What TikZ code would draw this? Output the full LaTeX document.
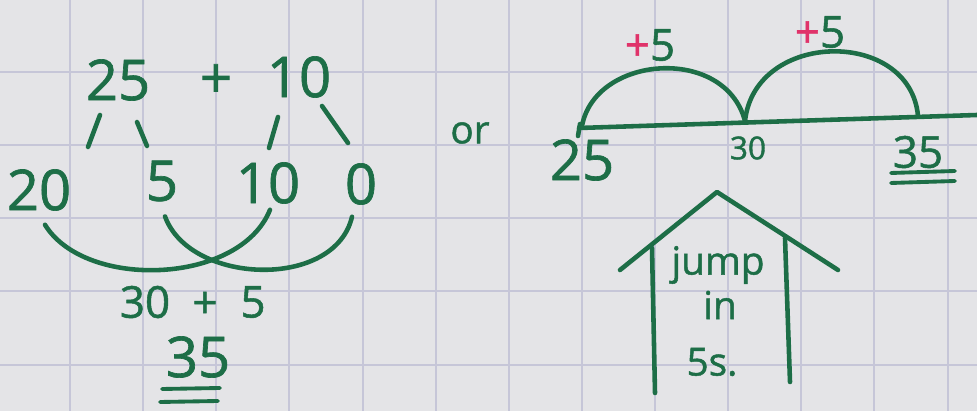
\documentclass[tikz,border=0pt]{standalone}
\usepackage{fontspec}
\setmainfont{Open Sans}
\newfontfamily\handfont{Open Sans}[FakeBold=1.2]
\usetikzlibrary{positioning}
\definecolor{inkcol}{HTML}{1D6E47}
\definecolor{pluscol}{HTML}{E0336A}
\definecolor{papercol}{HTML}{E4E4E7}
\definecolor{gridcol}{HTML}{C6C6D8}

\begin{document}
\begin{tikzpicture}[
  x=0.02cm, y=-0.02cm,
  ink/.style={draw=inkcol, line width=2.6pt, line cap=round, line join=round},
  gridline/.style={draw=gridcol, line width=0.6pt},
  bignum/.style={text=inkcol, font=\handfont\fontsize{32}{34}\selectfont, inner sep=1pt},
  midnum/.style={text=inkcol, font=\handfont\fontsize{25}{28}\selectfont, inner sep=1pt},
  smallnum/.style={text=inkcol, font=\handfont\fontsize{18}{20}\selectfont, inner sep=1pt},
  word/.style={text=inkcol, font=\handfont\fontsize{22}{24}\selectfont, inner sep=1pt},
]

% paper and grid
\fill[papercol] (0,0) rectangle (977,411);
\useasboundingbox (0,0) rectangle (977,411);
\foreach \gx in {70,143,216,289,363,436,509,582,655,728,801,874,948}{
  \draw[gridline] (\gx,0) -- (\gx,411);
}
\foreach \gy in {72,145,218,291,365}{
  \draw[gridline] (0,\gy) -- (977,\gy);
}

% split strategy
\node[bignum] (top25) at (118,80) {25};
\node[bignum] (topplus) at (216,81) {+};
\node[bignum] (top10) at (299,77) {10};

\draw[ink] (88,147) -- (100,115);
\draw[ink] (137,122) -- (147,146);
\draw[ink] (269,148) -- (278,117);
\draw[ink] (322,106) -- (348,143);

\node[bignum] (tens20) at (39,190) {20};
\node[bignum] (ones5)  at (162,181) {5};
\node[bignum] (tens10) at (268,183) {10};
\node[bignum] (ones0)  at (361,184) {0};

\draw[ink] ([shift={(6,12)}]tens20.south) .. controls (85,290) and (240,285) .. ([shift={(2,4)}]tens10.south);
\draw[ink] ([shift={(3,13)}]ones5.south) .. controls (190,285) and (335,290) .. ([shift={(-9,10)}]ones0.south);

\node[midnum] (sum30) at (145,302) {30};
\node[midnum] (sumplus) at (205,305) {+};
\node[midnum] (sum5) at (253,302) {5};
\node[bignum] (res35) at (198,357) {35};
\draw[ink, line width=2.2pt] (162,389) -- (220,388);
\draw[ink, line width=2.2pt] (160,402) -- (218,401);

\node[word] (ortext) at (470,133) {or};

% number line
\coordinate (p25) at (582,126);
\coordinate (p30) at (745,121);
\coordinate (p35) at (918,116);
\draw[ink] (579,128) -- (977,115);
\draw[ink] (580,124) -- (578,136);
\draw[ink] (p25) .. controls (595,55) and (725,45) .. (p30);
\draw[ink] (p30) .. controls (755,30) and (910,28) .. (p35);

\node[midnum] (jump1) at (650,45) {\textcolor{pluscol}{+}5};
\node[midnum] (jump2) at (820,32) {\textcolor{pluscol}{+}5};

\node[bignum] (lab25) at (582,160) {25};
\node[smallnum] (lab30) at (748,148) {30};
\node[midnum] (lab35) at (918,152) {35};
\draw[ink, line width=2.2pt] (891,173) -- (955,171);
\draw[ink, line width=2.2pt] (891,183) -- (955,181);

% house
\draw[ink] (620,270) -- (717,192) -- (838,270);
\draw[ink] (652,248) -- (655,393);
\draw[ink] (785,238) -- (790,382);
\node[word] (hjump) at (718,265) {jump};
\node[word] (hin) at (720,305) {in};
\node[word] (hfives) at (712,362) {5s.};

\end{tikzpicture}
\end{document}
